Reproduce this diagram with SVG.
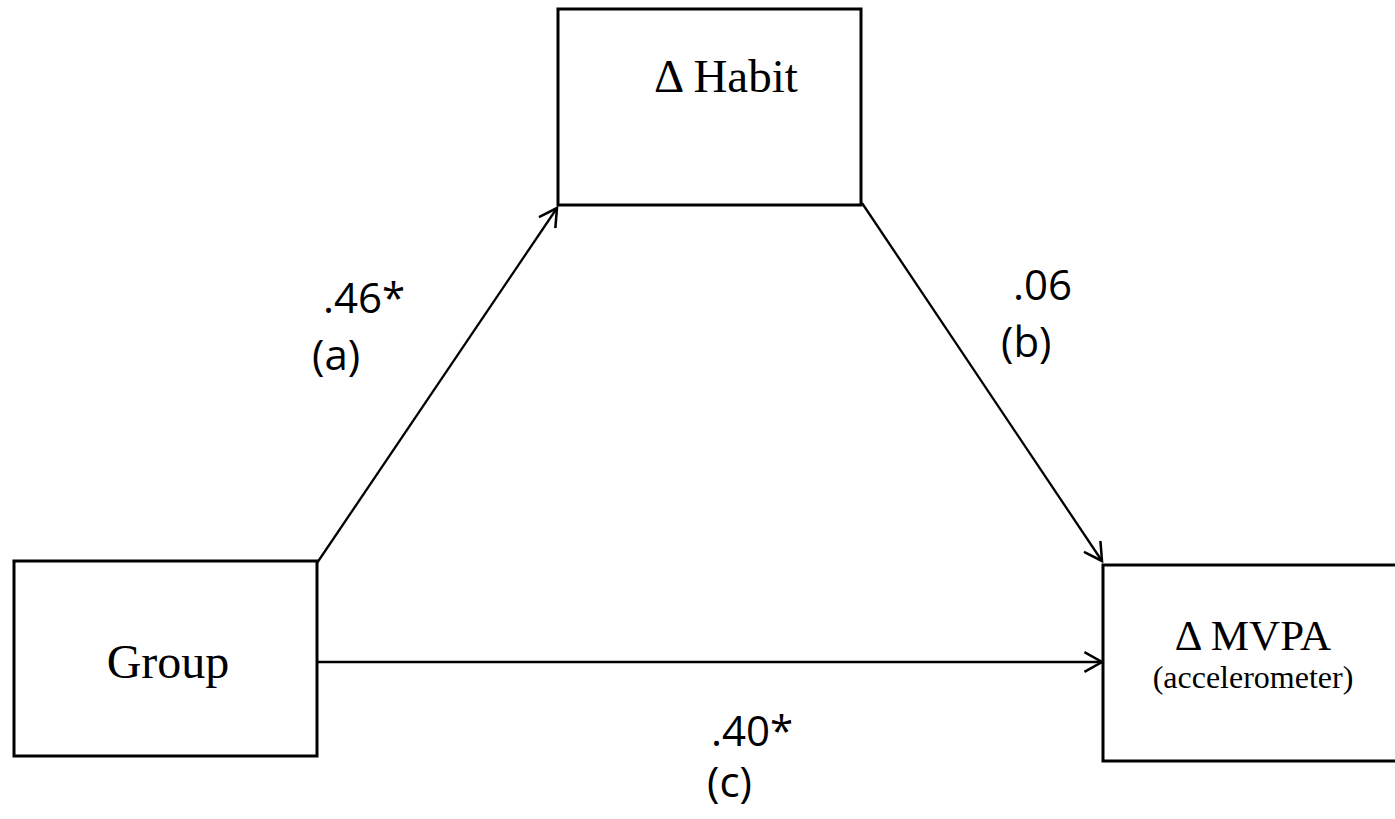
<svg xmlns="http://www.w3.org/2000/svg" width="1395" height="819" viewBox="0 0 1395 819">
<style>
.box{fill:#fff;stroke:#000;stroke-width:3}
.serif{font-family:"Liberation Serif","Times New Roman",serif;fill:#000}
.lbl{font-family:"Open Sans","Liberation Sans",sans-serif;font-size:42px;fill:#000}
.edge{stroke:#000;stroke-width:2.3;fill:none;marker-end:url(#arr)}
</style>
<defs>
<marker id="arr" markerUnits="userSpaceOnUse" markerWidth="22" markerHeight="22" refX="17" refY="10" orient="auto" viewBox="0 0 20 20">
<path d="M1,1 L17,10 L1,19" fill="none" stroke="#000" stroke-width="2.3"/>
</marker>
</defs>
<rect width="1395" height="819" fill="#fff"/>
<g id="habit">
<rect class="box" x="558" y="9" width="303" height="196"/>
<text class="serif" x="654" y="92" font-size="47">Δ Habit</text>
</g>
<g id="group">
<rect class="box" x="14" y="561" width="303" height="195"/>
<text class="serif" x="168" y="678" font-size="48" text-anchor="middle">Group</text>
</g>
<g id="mvpa">
<rect class="box" x="1103" y="565" width="300" height="196"/>
<text class="serif" x="1253" y="650" font-size="43" text-anchor="middle">Δ MVPA</text>
<text class="serif" x="1253" y="688" font-size="32" text-anchor="middle">(accelerometer)</text>
</g>
<g id="connectors">
<line class="edge" x1="317" y1="563" x2="557" y2="208"/>
<line class="edge" x1="862" y1="203" x2="1102" y2="561"/>
<line class="edge" x1="317" y1="662" x2="1102" y2="662"/>
</g>
<g id="labels">
<text class="lbl" x="323" y="313">.46*</text>
<text class="lbl" x="312" y="370">(a)</text>
<text class="lbl" x="1013" y="300">.06</text>
<text class="lbl" x="1001" y="357">(b)</text>
<text class="lbl" x="711" y="746">.40*</text>
<text class="lbl" x="707" y="797">(c)</text>
</g>
</svg>
